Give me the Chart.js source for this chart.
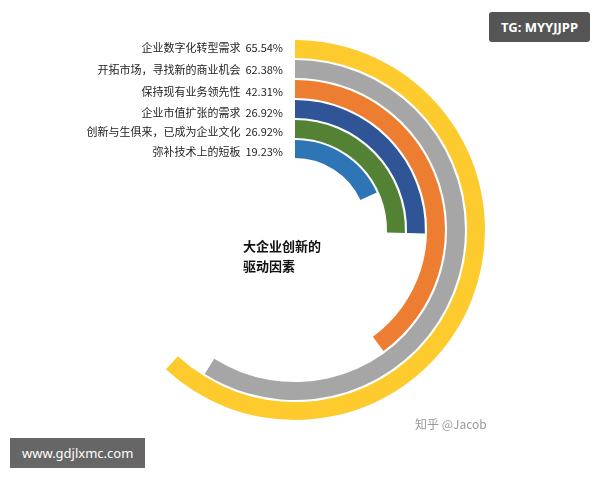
<!DOCTYPE html>
<html><head><meta charset="utf-8">
<script src="https://cdn.jsdelivr.net/npm/chart.js@4"></script>
<style>
body{margin:0;width:600px;height:480px;background:#fff;position:relative;overflow:hidden;font-family:"Noto Sans CJK SC","Noto Sans",sans-serif}
#wrap{position:absolute;left:0;top:0;width:600px;height:480px}
.wm1{position:absolute;right:10px;top:12px;background:#555;color:#fff;font:bold 13px "Noto Sans";padding:6px 12px;border-radius:3px}
.wm2{position:absolute;left:10px;top:438px;background:#666;color:#fff;font:13px "Noto Sans";padding:6px 12px}
.wm3{position:absolute;left:415px;top:415px;color:#999;font:12px "Noto Sans CJK SC"}
</style></head><body>
<div id="wrap"><canvas id="c" width="600" height="480"></canvas></div>
<div class="wm1">TG: MYYJJPP</div>
<div class="wm2">www.gdjlxmc.com</div>
<div class="wm3">知乎 @Jacob</div>
<script>
const categories=["企业数字化转型需求","开拓市场，寻找新的商业机会","保持现有业务领先性","企业市值扩张的需求","创新与生俱来，已成为企业文化","弥补技术上的短板"];
const values=[65.54,62.38,42.31,26.92,26.92,19.23];
const colors=["#FDCB2E","#A6A6A6","#ED7D31","#2F5597","#548235","#2E75B6"];
const cx=295,cy=230,R=190,Rin=72;
const datasets=[];
values.forEach((v,i)=>{
  if(i>0) datasets.push({data:[100],backgroundColor:['rgba(0,0,0,0)'],borderWidth:0,weight:0.12});
  datasets.push({data:[v,100-v],backgroundColor:[colors[i],'rgba(0,0,0,0)'],borderWidth:0,weight:1});
});
const labelPlugin={id:'lbl',afterDraw(ch){
  const c=ch.ctx;c.save();
  c.font='11px "Noto Sans CJK SC"';c.fillStyle='#222';c.textAlign='right';c.textBaseline='middle';
  const ys=[48,70,92,113,132,152];
  categories.forEach((t,i)=>c.fillText(t+'  '+values[i].toFixed(2)+'%',283,ys[i]));
  c.font='bold 13px "Noto Sans CJK SC"';c.textAlign='left';c.fillStyle='#111';
  c.fillText('大企业创新的',243,246);c.fillText('驱动因素',243,266);
  c.restore();}};
new Chart(document.getElementById('c'),{type:'doughnut',data:{labels:['v','rest'],datasets},
options:{responsive:false,animation:false,cutout:(Rin/R*100)+'%',circumference:340,
layout:{padding:{left:cx-R,top:cy-R,right:600-cx-R,bottom:480-cy-R}},
plugins:{legend:{display:false},tooltip:{enabled:false}}},plugins:[labelPlugin]});
</script></body></html>
